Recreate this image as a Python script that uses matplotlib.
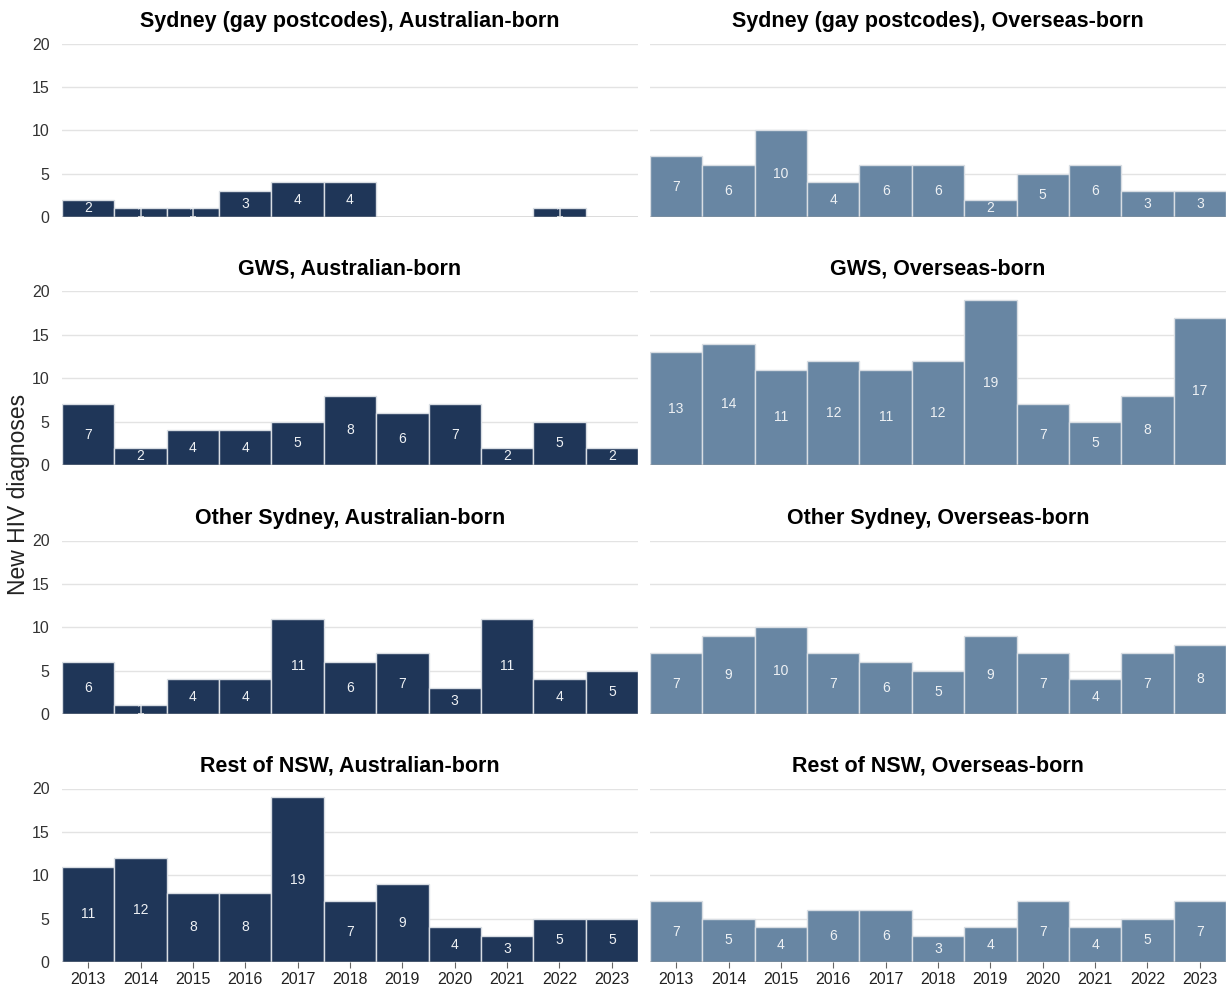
import matplotlib.pyplot as plt
import numpy as np

plt.rcParams['font.family'] = ['Liberation Sans', 'DejaVu Sans']

years = [2013, 2014, 2015, 2016, 2017, 2018, 2019, 2020, 2021, 2022, 2023]
regions = ["Sydney (gay postcodes)", "GWS", "Other Sydney", "Rest of NSW"]

# new diagnoses per year, Australian-born
aus_gay = [2, 1, 1, 3, 4, 4, 0, 0, 0, 1, 0]
aus_gws = [7, 2, 4, 4, 5, 8, 6, 7, 2, 5, 2]
aus_other = [6, 1, 4, 4, 11, 6, 7, 3, 11, 4, 5]
aus_rest = [11, 12, 8, 8, 19, 7, 9, 4, 3, 5, 5]

# new diagnoses per year, overseas-born
os_gay = [7, 6, 10, 4, 6, 6, 2, 5, 6, 3, 3]
os_gws = [13, 14, 11, 12, 11, 12, 19, 7, 5, 8, 17]
os_other = [7, 9, 10, 7, 6, 5, 9, 7, 4, 7, 8]
os_rest = [7, 5, 4, 6, 6, 3, 4, 7, 4, 5, 7]

aus_series = [aus_gay, aus_gws, aus_other, aus_rest]
os_series = [os_gay, os_gws, os_other, os_rest]

DARK = "#1f3658"
LIGHT = "#6886a3"

fig = plt.figure(figsize=(12.26, 9.89), dpi=100)

lefts = [62 / 1226, 650 / 1226]
width = 576 / 1226
bottoms = [1 - 217 / 989, 1 - 465 / 989, 1 - 714 / 989, 1 - 962 / 989]
height = 173.5 / 989


def draw_panel(ax, values, color, title, show_x):
    vals = np.array(values)
    keep = vals > 0
    xs = np.array(years)[keep]
    ax.bar(xs, vals[keep], width=1.0, color=color, edgecolor="#d8dde3",
           linewidth=1.0, zorder=2)
    for x, v in zip(xs, vals[keep]):
        ax.text(x, v / 2, str(v), ha="center", va="center", color="#eef1f4",
                fontsize=10, zorder=3)
    ax.axhline(0, color="#666666", linewidth=1.0, zorder=4)
    ax.set_xlim(2012.5, 2023.5)
    ax.set_ylim(0, 20)
    ax.set_yticks([0, 5, 10, 15, 20])
    ax.grid(axis="y", color="#e3e3e3", linewidth=1.0, zorder=0)
    ax.set_axisbelow(True)
    for s in ax.spines.values():
        s.set_visible(False)
    ax.tick_params(axis="y", length=0, pad=9, labelsize=11.5, labelcolor="#333333")
    ax.set_xticks(years)
    if show_x:
        ax.tick_params(axis="x", length=4, color="#666666", pad=3,
                       labelsize=11.5, labelcolor="#222222")
    else:
        ax.tick_params(axis="x", length=0, labelbottom=False)
    ax.set_title(title, fontsize=15.5, fontweight="bold", pad=12)


for r, region in enumerate(regions):
    last = r == len(regions) - 1
    ax_l = fig.add_axes([lefts[0], bottoms[r], width, height])
    draw_panel(ax_l, aus_series[r], DARK, f"{region}, Australian-born", last)
    ax_r = fig.add_axes([lefts[1], bottoms[r], width, height])
    draw_panel(ax_r, os_series[r], LIGHT, f"{region}, Overseas-born", last)
    ax_r.tick_params(axis="y", labelleft=False)

fig.text(0.015, 0.5, "New HIV diagnoses", rotation=90, ha="center",
         va="center", fontsize=16.5, color="#222222")

fig.savefig("out.png", dpi=100)
